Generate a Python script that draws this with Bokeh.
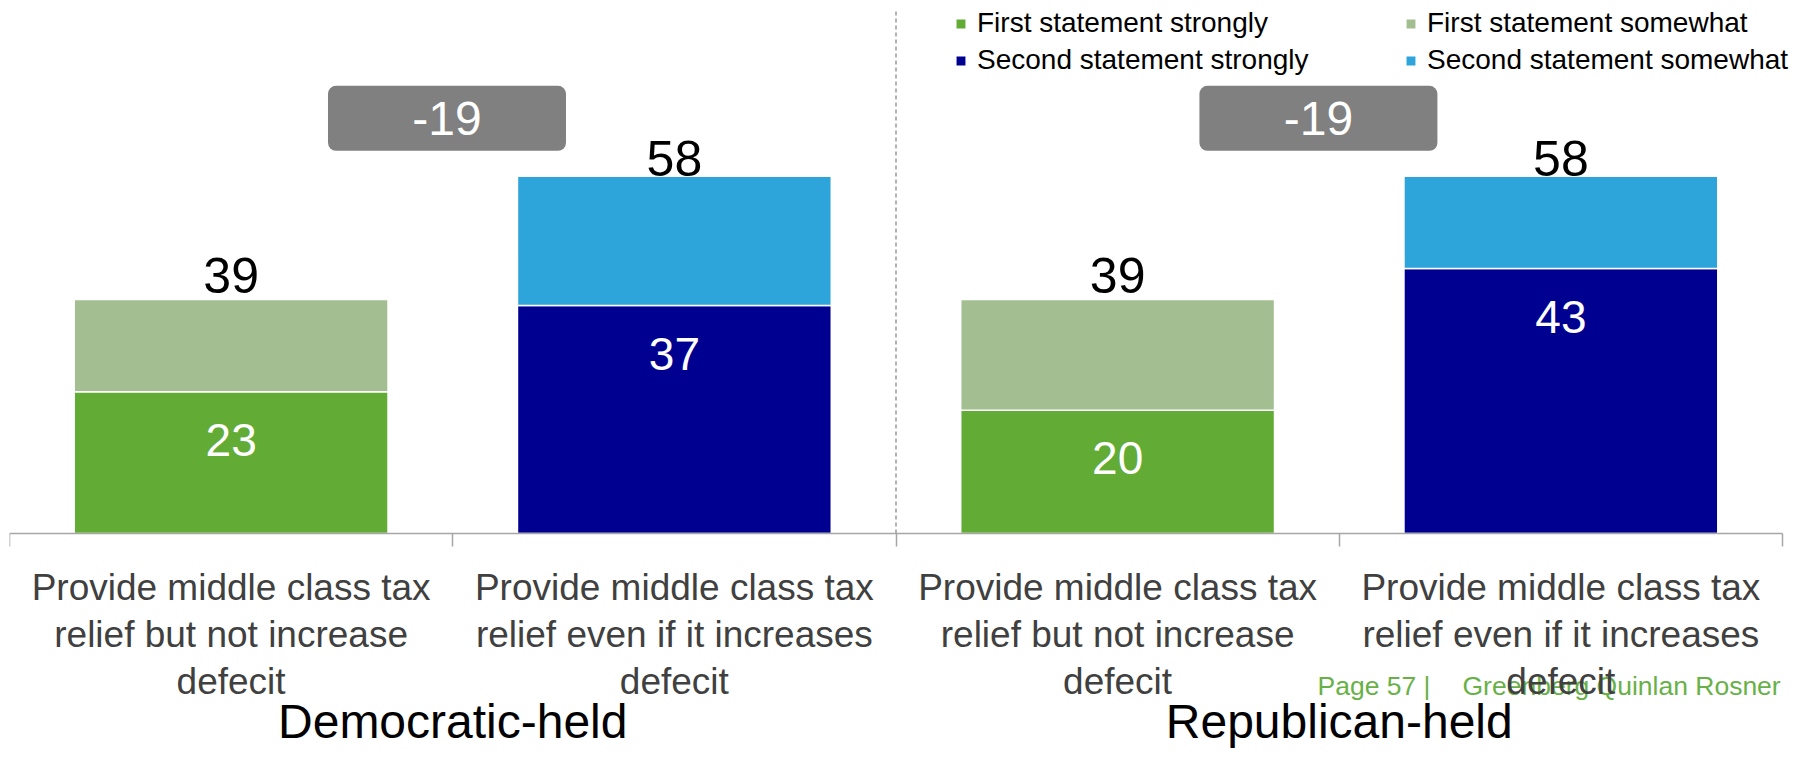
from bokeh.plotting import figure
from bokeh.models import (Range1d, LinearAxis, FixedTicker, Legend, LegendItem,
                          ColumnDataSource, Label)
from bokeh.core.properties import value
from bokeh.embed import file_html
from bokeh.resources import INLINE

# ---- data ----
groups = ["Democratic-held", "Republican-held"]
statements = ["Provide middle class tax\nrelief but not increase\ndefecit",
              "Provide middle class tax\nrelief even if it increases\ndefecit"]
series_names = ["First statement strongly", "First statement somewhat",
                "Second statement strongly", "Second statement somewhat"]
strongly = [23, 37, 20, 43]
somewhat = [15, 21, 18, 15]
totals = [39, 58, 39, 58]
footer_page = "Page 57 |"
footer_org = "Greenberg Quinlan Rosner"

FONT = "Liberation Sans"
C_FS, C_FW, C_SS, C_SW = "#62AC36", "#A3BE91", "#000090", "#2DA5DB"

# layout constants (pixels)
FRAME_W, FRAME_H = 1782, 741
PX_PER_X = 443.25     # pixels per category slot
PLOT_H = 525          # pixels from frame top to the value baseline
PX_PER_UNIT = 6.16
X_END = FRAME_W / PX_PER_X
Y_TOP = PLOT_H / PX_PER_UNIT
Y_BOT = -(FRAME_H - PLOT_H) / PX_PER_UNIT

n = len(strongly)
xs = [i + 0.5 for i in range(n)]
strong_cols = [C_FS if i % 2 == 0 else C_SS for i in range(n)]
some_cols = [C_FW if i % 2 == 0 else C_SW for i in range(n)]
tops = [s + w for s, w in zip(strongly, somewhat)]
src = ColumnDataSource(dict(x=xs, strongly=strongly, tops=tops,
                            slab=[str(s) for s in strongly], sc=strong_cols, wc=some_cols))

p = figure(frame_width=FRAME_W, frame_height=FRAME_H, x_range=Range1d(0, X_END),
           y_range=Range1d(Y_BOT, Y_TOP),
           toolbar_location=None, output_backend="svg",
           x_axis_location=None, y_axis_location=None,
           min_border_left=9, min_border_right=0, min_border_top=8, min_border_bottom=0)
p.grid.visible = False
p.outline_line_color = None
p.background_fill_color = "white"

# dashed separator between the two groups
p.segment(x0=[2], y0=[0], x1=[2], y1=[Y_TOP], line_color="#808080",
          line_dash="4 3", line_width=1.2)

r_strong = p.vbar(x="x", bottom=0, top="strongly", width=0.708, source=src,
                  fill_color="sc", line_color="white", line_width=1.5)
r_some = p.vbar(x="x", bottom="strongly", top="tops", width=0.708, source=src,
                fill_color="wc", line_color="white", line_width=1.5)

p.text(x="x", y="tot", text="t",
       source=ColumnDataSource(dict(x=xs, tot=totals, t=[str(t) for t in totals])),
       text_font=value(FONT), text_font_size="50px", text_align="center",
       text_baseline="bottom", y_offset=0, text_color="black")
p.text(x="x", y="strongly", text="slab", source=src, y_offset=48,
       text_font=value(FONT), text_font_size="46px", text_align="center",
       text_baseline="middle", text_color="white")

# difference boxes
gaps = [totals[2 * g] - totals[2 * g + 1] for g in range(len(groups))]
box_shift = [-0.013, -0.047]
box_x = [2 * g + 1 + box_shift[g] for g in range(len(groups))]
BOX_Y = 67.4
bsrc = ColumnDataSource(dict(x=box_x, y=[BOX_Y] * len(groups), t=[str(g) for g in gaps]))
p.rect(x="x", y="y", width=238, height=65, width_units="screen", height_units="screen",
       source=bsrc, fill_color="#808080", line_color=None, border_radius=8)
p.text(x="x", y="y", text="t", source=bsrc, text_font=value(FONT), text_font_size="48px",
       text_align="center", text_baseline="middle", text_color="white")

# footer (drawn under the axis labels)
p.add_layout(Label(x=1308, y=64, x_units="screen", y_units="screen", text=footer_page,
                   text_font=FONT, text_font_size="26.5px", text_color="#68B147",
                   text_baseline="middle", level="underlay"))
p.add_layout(Label(x=1453, y=64, x_units="screen", y_units="screen", text=footer_org,
                   text_font=FONT, text_font_size="26.5px", text_color="#68B147",
                   text_baseline="middle", level="underlay"))

# axes
ax = LinearAxis(fixed_location=0,
                ticker=FixedTicker(ticks=xs, minor_ticks=list(range(n + 1))),
                major_label_overrides={x: statements[i % 2] for i, x in enumerate(xs)},
                major_tick_out=0, major_tick_in=0, minor_tick_out=13, minor_tick_in=0,
                minor_tick_line_color="#A6A6A6", minor_tick_line_width=1.5,
                axis_line_color="#A6A6A6", axis_line_width=1.5,
                major_label_text_font=FONT, major_label_text_font_size="37px",
                major_label_text_color="#404040", major_label_text_line_height=1.15,
                major_label_standoff=20)
ax.bounds = (0, n)
p.add_layout(ax, "below")
gcent = [2 * g + 1 for g in range(len(groups))]
GROUP_AXIS_Y = -25.2
gax = LinearAxis(fixed_location=GROUP_AXIS_Y,
                 ticker=FixedTicker(ticks=gcent, minor_ticks=[]),
                 major_label_overrides={c: groups[i] for i, c in enumerate(gcent)},
                 axis_line_color=None, major_tick_line_color=None, minor_tick_line_color=None,
                 major_label_text_font=FONT, major_label_text_font_size="48px",
                 major_label_text_color="black", major_label_standoff=0)
p.add_layout(gax, "below")

legend = Legend(items=[
    LegendItem(label=series_names[0], renderers=[r_strong], index=0),
    LegendItem(label=series_names[1], renderers=[r_some], index=0),
    LegendItem(label=series_names[2], renderers=[r_strong], index=1),
    LegendItem(label=series_names[3], renderers=[r_some], index=1),
], location=(945, FRAME_H - 65 - 3), orientation="horizontal", ncols=2,
    label_text_font=FONT, label_text_font_size="28px", label_text_color="black",
    label_height=30, label_width=422, glyph_width=13, glyph_height=13,
    label_standoff=10, spacing=5, padding=0, margin=0,
    border_line_alpha=0, background_fill_alpha=0)
p.add_layout(legend)

open("out.html", "w").write(file_html(p, INLINE))
